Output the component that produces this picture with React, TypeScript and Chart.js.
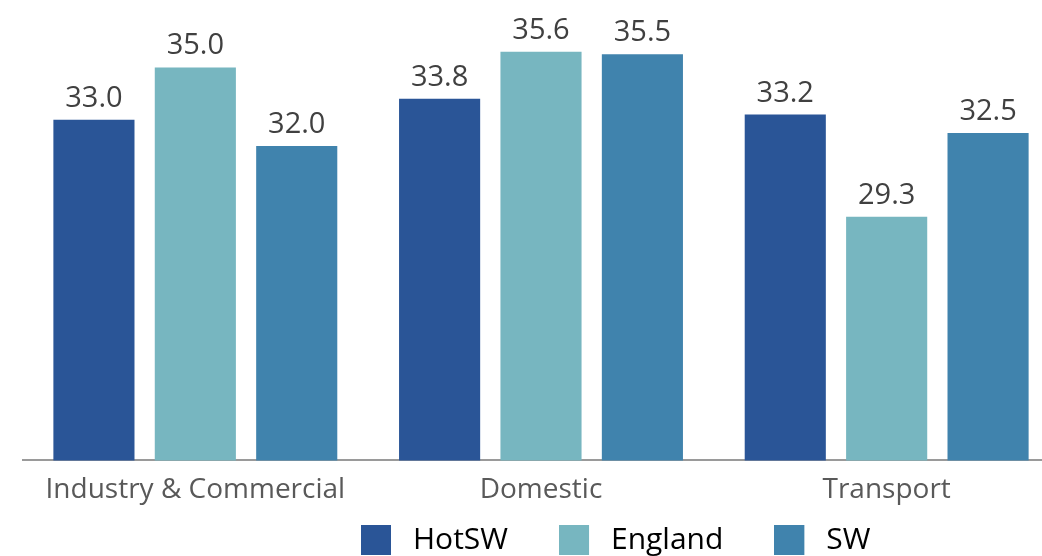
import React, { useEffect, useRef } from "react";
import { Chart, registerables } from "chart.js";

Chart.register(...registerables);

const categories = ["Industry & Commercial", "Domestic", "Transport"];
const seriesNames = ["HotSW", "England", "SW"];
const hotSWValues = [33.0, 33.8, 33.2];
const englandValues = [35.0, 35.6, 29.3];
const swValues = [32.0, 35.5, 32.5];
const seriesColors = ["#2A5597", "#77B6C0", "#4083AD"];
const yMin = 20;
const yMax = 37;

const FONT = "'Open Sans', 'Noto Sans', sans-serif";

function makeSwatch(color: string): HTMLCanvasElement {
  const c = document.createElement("canvas");
  c.width = 37;
  c.height = 30;
  const ctx = c.getContext("2d")!;
  ctx.fillStyle = color;
  ctx.fillRect(0, 0, 30, 30);
  return c;
}

const valueLabels = {
  id: "valueLabels",
  afterDatasetsDraw(chart: any) {
    const ctx = chart.ctx;
    ctx.save();
    ctx.font = `29px ${FONT}`;
    ctx.fillStyle = "#404040";
    ctx.textAlign = "center";
    ctx.textBaseline = "alphabetic";
    chart.data.datasets.forEach((ds: any, i: number) => {
      const meta = chart.getDatasetMeta(i);
      meta.data.forEach((bar: any, j: number) => {
        ctx.fillText(Number(ds.data[j]).toFixed(1), bar.x, bar.y - 13);
      });
    });
    ctx.restore();
  },
};

const legendPlace = {
  id: "legendPlace",
  afterLayout(chart: any) {
    const l = chart.legend;
    if (!l || !l.lineWidths) return;
    const pad = l.options.labels.padding;
    const startX = (l.left + pad + l.right - l.lineWidths[0]) / 2;
    const dx = 361 - startX;
    l.left += dx;
    l.right += dx;
    l.top = 525 - pad;
    l.bottom = chart.height;
  },
};

export default function App() {
  const ref = useRef<HTMLCanvasElement | null>(null);

  useEffect(() => {
    if (!ref.current) return;
    const swatches = seriesColors.map(makeSwatch);
    const seriesValues = [hotSWValues, englandValues, swValues];
    const chart = new Chart(ref.current, {
      type: "bar",
      data: {
        labels: categories,
        datasets: seriesNames.map((name, i) => ({
          label: name,
          data: seriesValues[i],
          backgroundColor: seriesColors[i],
          borderWidth: 0,
          categoryPercentage: 0.88,
          barPercentage: 0.8,
        })),
      },
      options: {
        animation: false,
        responsive: true,
        maintainAspectRatio: false,
        layout: { padding: { left: 22.5, right: 40.5, top: 15, bottom: 4 } },
        plugins: {
          tooltip: { enabled: false },
          legend: {
            position: "bottom",
            maxHeight: 40,
            labels: {
              usePointStyle: true,
              pointStyleWidth: 37,
              boxHeight: 30,
              padding: 51,
              color: "#595959",
              font: { family: FONT, size: 30 },
              generateLabels: (c: any) =>
                c.data.datasets.map((ds: any, i: number) => ({
                  text: ds.label,
                  fillStyle: ds.backgroundColor,
                  strokeStyle: ds.backgroundColor,
                  lineWidth: 0,
                  pointStyle: swatches[i],
                  hidden: false,
                  datasetIndex: i,
                })),
            },
          },
        },
        scales: {
          x: {
            grid: { display: false },
            border: { display: true, color: "#9A9A9A", width: 2 },
            ticks: {
              color: "#595959",
              font: { family: FONT, size: 28 },
              padding: 5,
              maxRotation: 0,
              autoSkip: false,
            },
          },
          y: {
            display: false,
            min: yMin,
            max: yMax,
          },
        },
      },
      plugins: [valueLabels, legendPlace],
    });
    return () => chart.destroy();
  }, []);

  return (
    <div
      style={{
        position: "fixed",
        left: 0,
        top: 0,
        width: 1042,
        height: 556,
        overflow: "hidden",
        background: "#ffffff",
      }}
    >
      <div style={{ position: "relative", width: 1100, height: 556 }}>
        <canvas ref={ref} />
      </div>
    </div>
  );
}
